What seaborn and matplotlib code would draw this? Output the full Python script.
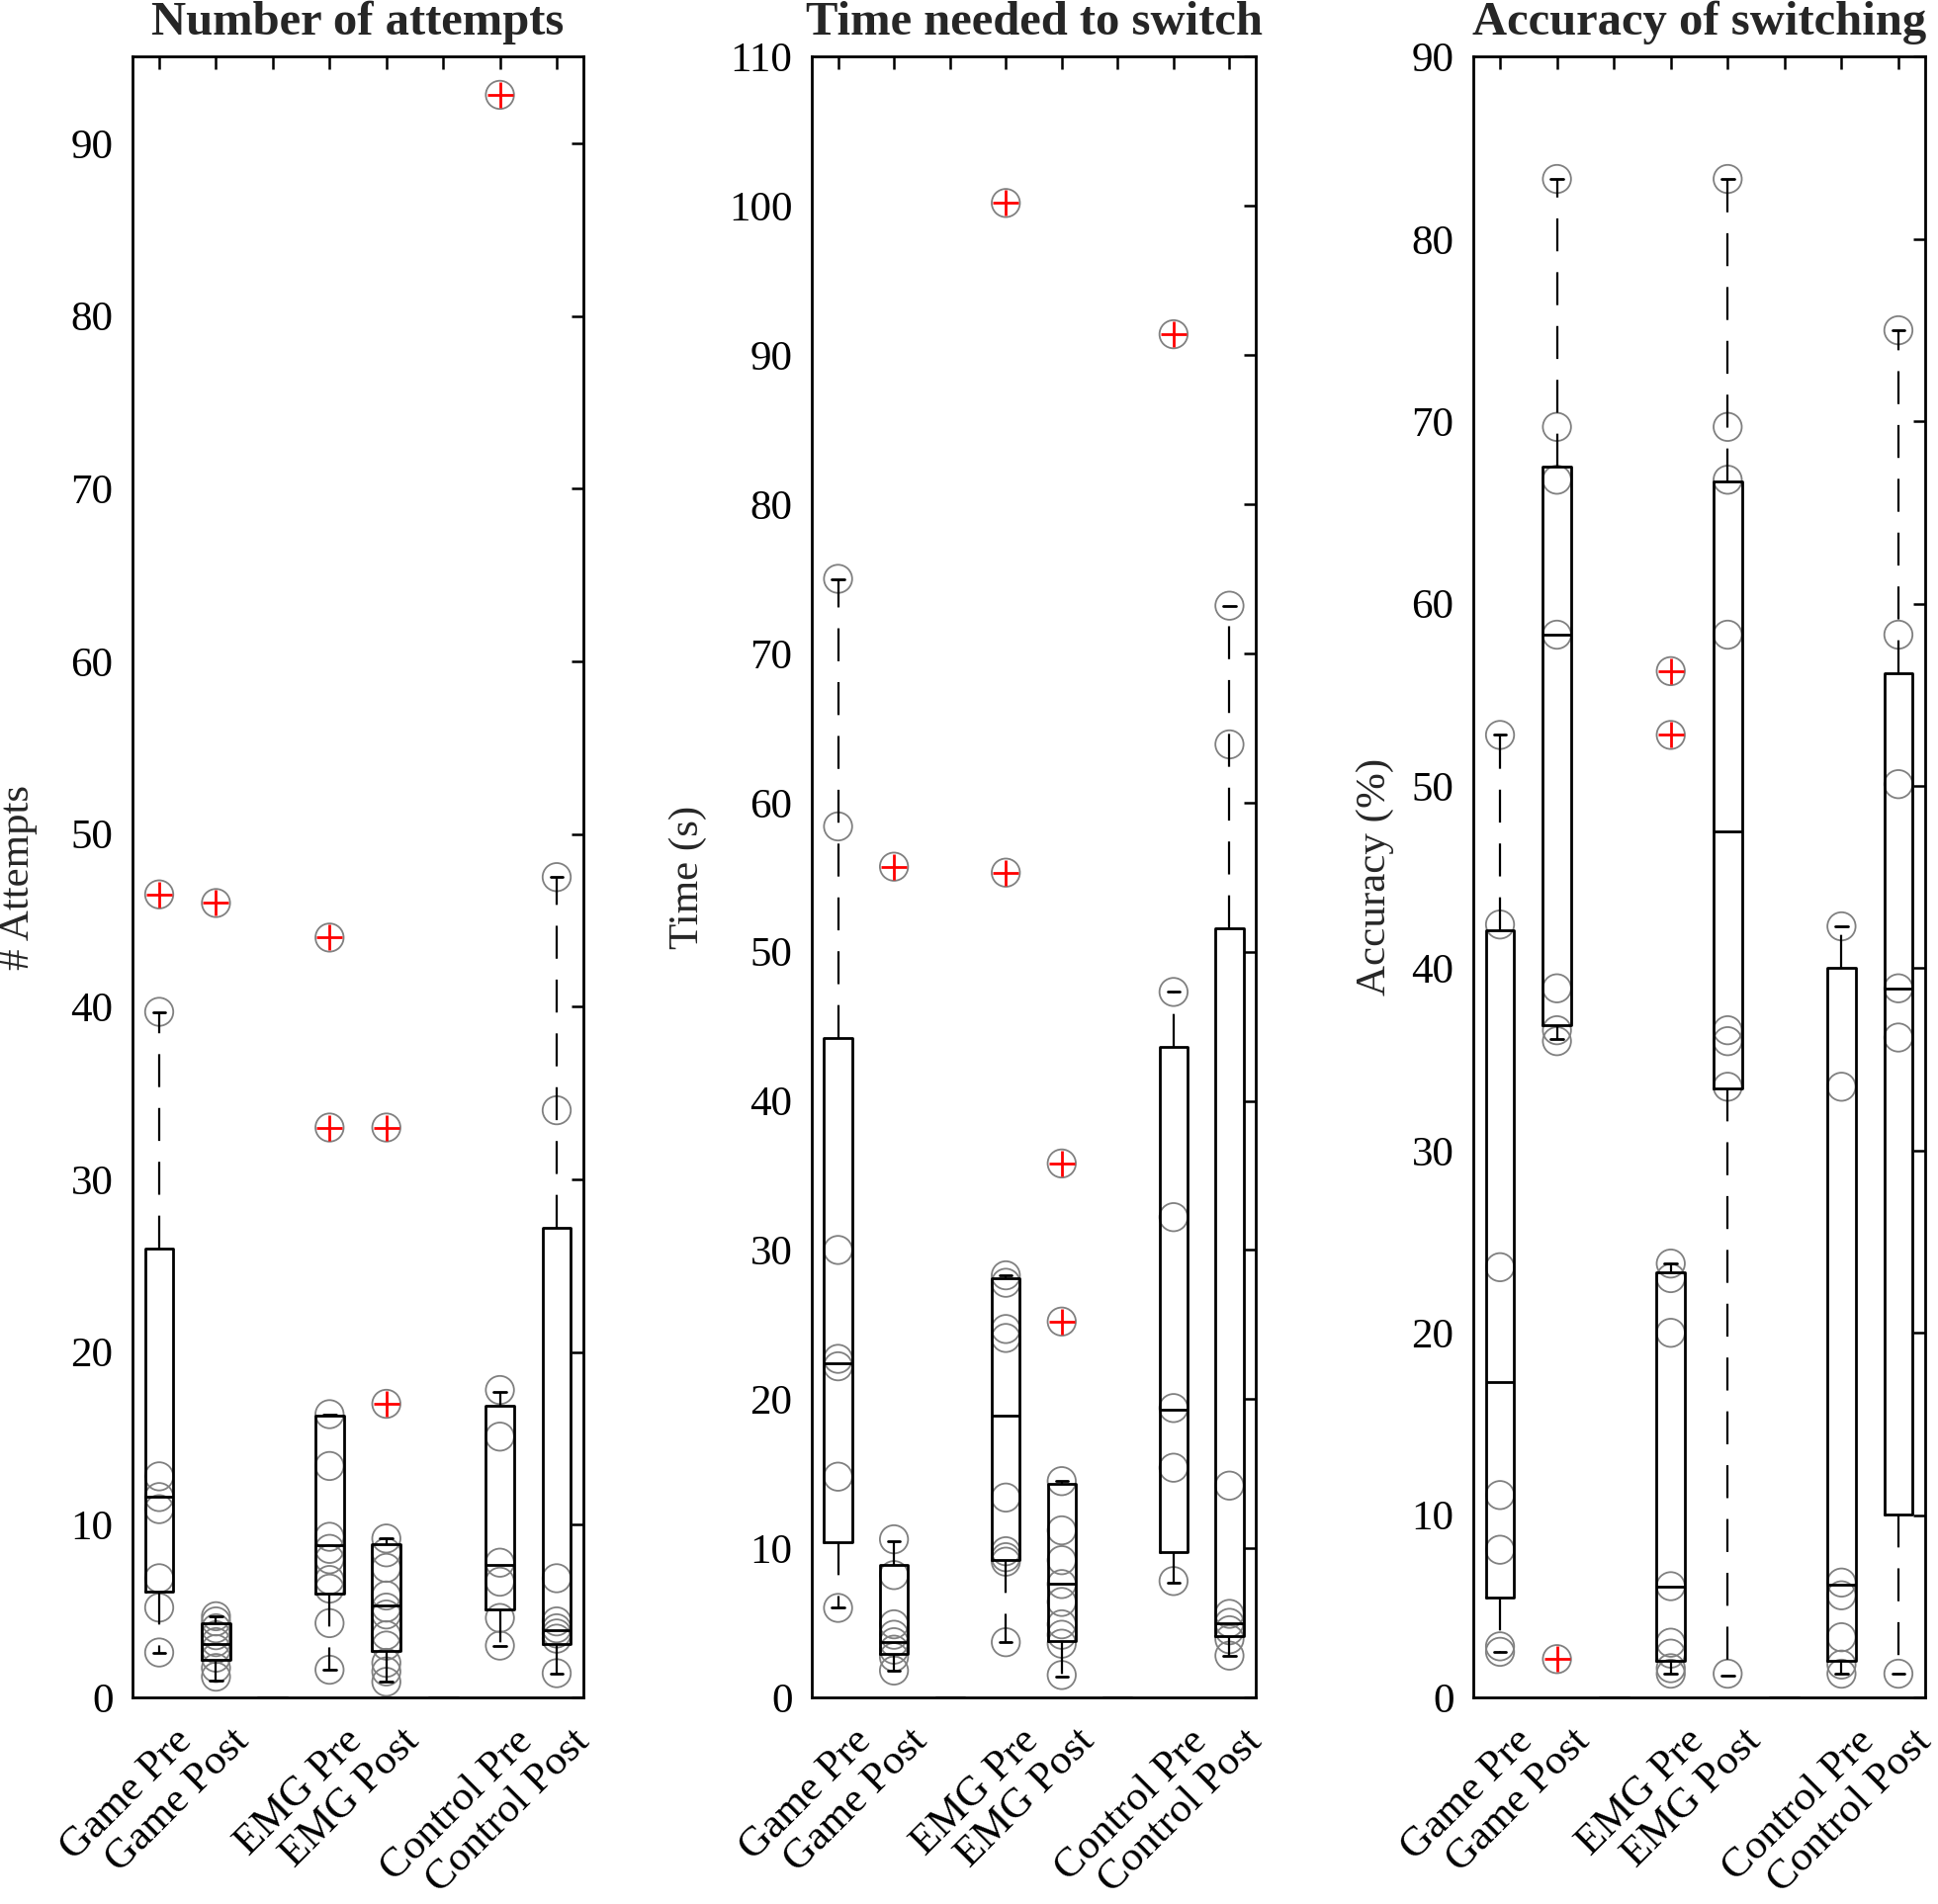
import matplotlib
matplotlib.use('Agg')
import matplotlib.pyplot as plt
import matplotlib.transforms as mtransforms
import numpy as np
import pandas as pd
import seaborn as sns

sns.set_style('white')
plt.rcParams['font.family'] = ['Liberation Serif', 'DejaVu Serif']

positions = [1, 2, 3, 4, 5, 6, 7, 8]
tick_labels = ['Game Pre', 'Game Post', '', 'EMG Pre', 'EMG Post', '', 'Control Pre', 'Control Post']

# Number of attempts (single subjects + box statistics)
att_points = [
    [2.6, 5.2, 6.9, 10.9, 11.6, 12.8, 39.7, 46.5],
    [1.2, 1.7, 2.3, 2.8, 3.2, 3.6, 4.0, 4.4, 4.7, 46.0],
    [],
    [1.6, 4.3, 6.3, 6.8, 8.0, 8.6, 9.3, 13.4, 16.4, 33.0, 44.0],
    [0.9, 1.5, 2.0, 3.0, 3.6, 4.8, 5.2, 5.9, 7.5, 8.4, 9.2, 17.0, 33.0],
    [],
    [3.0, 4.6, 6.7, 7.8, 15.1, 17.8, 92.8],
    [1.4, 3.4, 3.7, 4.0, 4.4, 6.9, 34.0, 47.5],
]
att_q1 = [6.1, 2.2, 0, 6.0, 2.7, 0, 5.1, 3.1]
att_med = [11.6, 3.1, 0, 8.8, 5.3, 0, 7.65, 3.9]
att_q3 = [26.0, 4.3, 0, 16.3, 8.9, 0, 16.9, 27.2]
att_lo = [2.6, 1.0, 0, 1.6, 0.9, 0, 3.0, 1.4]
att_hi = [39.7, 4.7, 0, 16.4, 9.2, 0, 17.7, 47.5]
att_out = [[46.5], [46.0], [], [33.0, 44.0], [17.0, 33.0], [], [92.8], []]

# Time needed to switch
time_points = [
    [6.0, 14.8, 22.2, 22.7, 30.0, 58.4, 75.0],
    [1.8, 2.7, 3.2, 3.7, 4.2, 4.9, 8.2, 10.6, 55.7],
    [],
    [3.7, 9.1, 9.4, 9.8, 13.4, 24.1, 24.7, 27.8, 28.3, 55.3, 100.2],
    [1.5, 3.6, 4.2, 4.9, 6.4, 7.6, 9.2, 11.2, 14.5, 25.2, 35.8],
    [],
    [7.8, 15.4, 19.4, 32.2, 47.3, 91.4],
    [2.8, 3.9, 4.5, 5.0, 5.6, 14.2, 63.9, 73.2],
]
time_q1 = [10.4, 2.9, 0, 9.2, 3.8, 0, 9.75, 4.1]
time_med = [22.4, 3.7, 0, 18.9, 7.65, 0, 19.3, 5.0]
time_q3 = [44.2, 8.9, 0, 28.1, 14.3, 0, 43.6, 51.6]
time_lo = [6.0, 1.8, 0, 3.7, 1.4, 0, 7.7, 2.8]
time_hi = [75.0, 10.5, 0, 28.3, 14.5, 0, 47.3, 73.2]
time_out = [[], [55.7], [], [55.3, 100.2], [25.2, 35.8], [], [91.4], []]

# Accuracy of switching
acc_points = [
    [2.5, 2.8, 8.1, 11.1, 23.6, 42.4, 52.8],
    [2.1, 36.0, 36.6, 38.9, 58.3, 66.8, 69.7, 83.3],
    [],
    [1.3, 1.6, 2.4, 3.0, 6.1, 20.0, 23.0, 23.8, 52.8, 56.3],
    [1.3, 33.5, 36.0, 36.6, 58.3, 66.8, 69.7, 83.3],
    [],
    [1.3, 1.8, 3.3, 5.6, 6.3, 33.5, 42.3],
    [1.3, 36.2, 38.9, 50.1, 58.3, 75.0],
]
acc_q1 = [5.5, 36.9, 0, 2.0, 33.4, 0, 2.0, 10.05]
acc_med = [17.3, 58.3, 0, 6.1, 47.5, 0, 6.2, 38.9]
acc_q3 = [42.1, 67.5, 0, 23.3, 66.7, 0, 40.0, 56.2]
acc_lo = [2.5, 36.1, 0, 1.3, 1.2, 0, 1.3, 1.3]
acc_hi = [52.8, 83.3, 0, 23.8, 83.3, 0, 42.3, 75.0]
acc_out = [[], [2.1], [], [52.8, 56.3], [], [], [], []]

fig = plt.figure(figsize=(19.6, 19.26), dpi=100)


def draw_panel(rect, points, q1, med, q3, lo, hi, out, title, ylabel, ymax, ytickmax, label_x):
    ax = fig.add_axes(rect)

    # individual values as open grey circles
    df = pd.DataFrame({
        'pos': np.repeat(positions, [len(p) for p in points]),
        'value': np.concatenate([np.asarray(p, dtype=float) for p in points]),
    })
    sns.scatterplot(data=df, x='pos', y='value', ax=ax, marker='o', s=420,
                    facecolor='none', edgecolor='0.5', linewidth=1.3,
                    legend=False, zorder=1)

    # MATLAB-like boxplot from the read statistics
    stats = [dict(q1=a, med=b, q3=c, whislo=d, whishi=e, fliers=f)
             for a, b, c, d, e, f in zip(q1, med, q3, lo, hi, out)]
    ax.bxp(stats, positions=positions, widths=0.5, capwidths=0.22,
           manage_ticks=False,
           boxprops=dict(color='k', linewidth=2.0),
           medianprops=dict(color='k', linewidth=2.0),
           whiskerprops=dict(color='k', linewidth=1.6, linestyle=(0, (15, 9.5))),
           capprops=dict(color='k', linewidth=2.0),
           flierprops=dict(marker='+', markeredgecolor='red', markersize=19,
                           markeredgewidth=2.0, linestyle='none'))

    ax.set_xlim(0.53, 8.47)
    ax.set_ylim(0, ymax)
    ax.set_yticks(np.arange(0, ytickmax + 1, 10))
    ax.set_xticks(positions)
    ax.set_xticklabels(tick_labels, rotation=45, ha='right', va='top',
                       rotation_mode='anchor')
    ax.set_xlabel('')
    ax.set_ylabel(ylabel, fontsize=31)
    ax.yaxis.set_label_coords(label_x, 0.5)
    ax.set_title(title, fontsize=35, fontweight='bold', pad=16)

    ax.tick_params(axis='both', direction='in', length=9, width=1.8,
                   top=True, right=True, labelsize=31, colors='k')
    ax.tick_params(axis='y', pad=14)
    ax.tick_params(axis='x', pad=18)
    for s in ax.spines.values():
        s.set_linewidth(2.0)
        s.set_color('k')

    offset = mtransforms.ScaledTranslation(10 / 72, 0, fig.dpi_scale_trans)
    for lab in ax.get_xticklabels():
        lab.set_transform(lab.get_transform() + offset)
    return ax


bottom = (1926 - 1717) / 1926
height = (1717 - 57.5) / 1926

draw_panel([134 / 1960, bottom, 456 / 1960, height],
           att_points, att_q1, att_med, att_q3, att_lo, att_hi, att_out,
           'Number of attempts', '# Attempts', 95, 90, -0.21)
draw_panel([821 / 1960, bottom, 449 / 1960, height],
           time_points, time_q1, time_med, time_q3, time_lo, time_hi, time_out,
           'Time needed to switch', 'Time (s)', 110, 110, -0.236)
draw_panel([1490 / 1960, bottom, 457 / 1960, height],
           acc_points, acc_q1, acc_med, acc_q3, acc_lo, acc_hi, acc_out,
           'Accuracy of switching', 'Accuracy (%)', 90, 90, -0.175)

fig.savefig('out.png', dpi=100)
